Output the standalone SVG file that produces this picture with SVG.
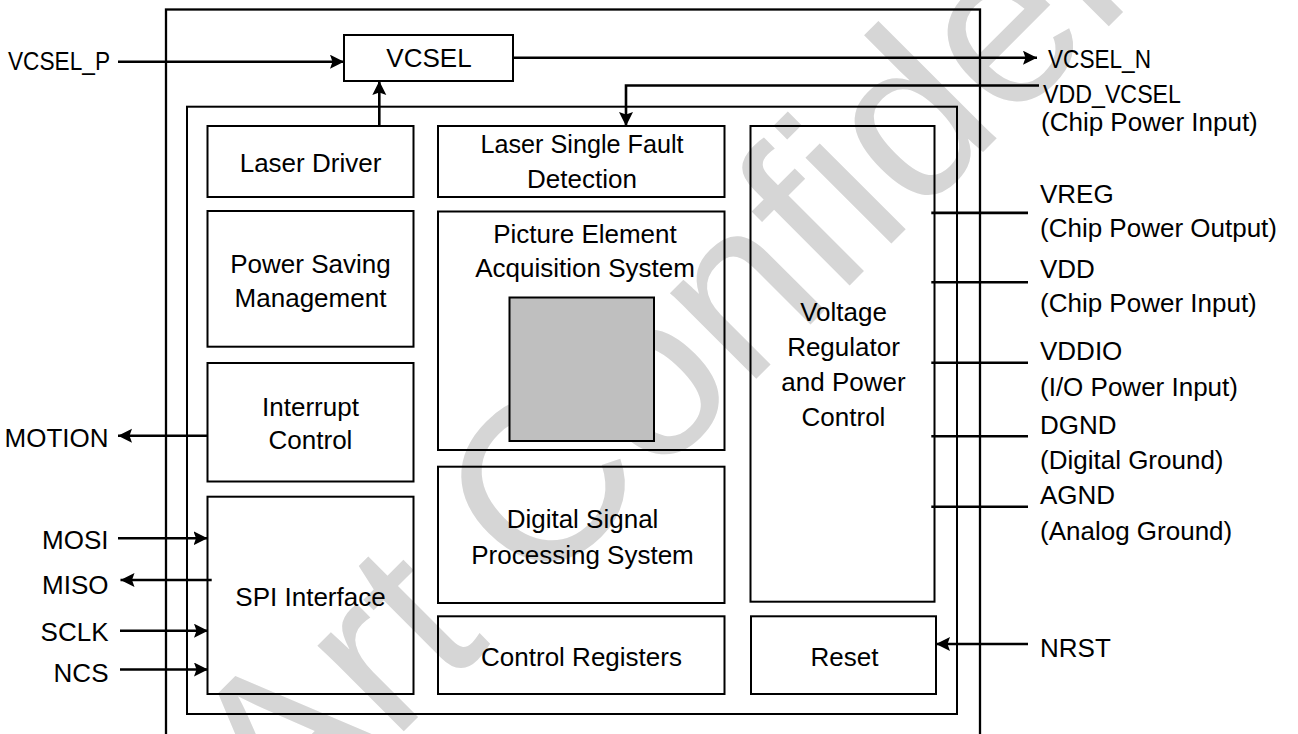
<svg xmlns="http://www.w3.org/2000/svg" width="1298" height="734" viewBox="0 0 1298 734">
<style>
.box{fill:none;stroke:#000;stroke-width:2}
.frame{fill:none;stroke:#000;stroke-width:2.3}
.wire{fill:none;stroke:#000;stroke-width:2.6}
.arr{marker-end:url(#ah)}
text{font-family:"Liberation Sans",Arial,sans-serif;font-size:26px;fill:#000}
.c{text-anchor:middle}
.e{text-anchor:end}
.wm{font-size:230px;fill:#d6d6d6}
</style>
<defs>
<marker id="ah" markerUnits="userSpaceOnUse" markerWidth="16" markerHeight="16" refX="14" refY="7" orient="auto">
<path d="M0,0 L14,7 L0,14 L2.5,7 z" fill="#000"/>
</marker>
</defs>
<rect width="1298" height="734" fill="#fff"/>
<text class="wm" transform="translate(284,851) rotate(-45)">Art Confidential</text>

<g id="chip">
<rect class="frame" x="166" y="9.5" width="814" height="740"/>
</g>
<g id="core">
<rect class="box" x="187" y="106.7" width="770" height="607.3"/>
</g>

<g id="vcsel">
<rect class="box" x="344" y="35" width="169" height="46"/>
<text class="c" x="429" y="67">VCSEL</text>
</g>
<g id="laser-driver">
<rect class="box" x="207.5" y="126" width="206" height="71"/>
<text class="c" x="310.5" y="172">Laser Driver</text>
</g>
<g id="power-saving">
<rect class="box" x="207.5" y="211" width="206" height="135.7"/>
<text class="c" x="310.5" y="272.5">Power Saving</text>
<text class="c" x="310.5" y="306.5">Management</text>
</g>
<g id="interrupt">
<rect class="box" x="207.5" y="363" width="206" height="118.5"/>
<text class="c" x="310.5" y="415.7">Interrupt</text>
<text class="c" x="310.5" y="449">Control</text>
</g>
<g id="spi">
<rect class="box" x="207.5" y="496.7" width="206" height="197.3"/>
<text class="c" x="310.5" y="605.7">SPI Interface</text>
</g>
<g id="fault">
<rect class="box" x="438" y="126" width="286.5" height="71"/>
<text class="c" x="582" y="153" textLength="203" lengthAdjust="spacingAndGlyphs">Laser Single Fault</text>
<text class="c" x="582" y="188.3">Detection</text>
</g>
<g id="pixel">
<rect class="box" x="438" y="211.5" width="286.5" height="238.5"/>
<text class="c" x="585" y="243.3">Picture Element</text>
<text class="c" x="585" y="277.3">Acquisition System</text>
<rect x="509.5" y="297.5" width="144.5" height="143.5" fill="#bfbfbf" stroke="#000" stroke-width="2"/>
</g>
<g id="dsp">
<rect class="box" x="438" y="466.7" width="286.5" height="136.3"/>
<text class="c" x="582.5" y="527.5">Digital Signal</text>
<text class="c" x="582.5" y="563.5">Processing System</text>
</g>
<g id="registers">
<rect class="box" x="438" y="616.3" width="286.5" height="77.7"/>
<text class="c" x="581.5" y="665.7">Control Registers</text>
</g>
<g id="regulator">
<rect class="box" x="750.5" y="126" width="184" height="475.7"/>
<text class="c" x="843.5" y="320.7">Voltage</text>
<text class="c" x="843.5" y="356">Regulator</text>
<text class="c" x="843.5" y="391">and Power</text>
<text class="c" x="843.5" y="425.5">Control</text>
</g>
<g id="reset">
<rect class="box" x="751" y="616.3" width="185" height="77.7"/>
<text class="c" x="844.5" y="665.7">Reset</text>
</g>

<g id="connectors">
<line class="wire arr" x1="118" y1="61.7" x2="344" y2="61.7"/>
<line class="wire arr" x1="513" y1="57.7" x2="1037" y2="57.7"/>
<line class="wire arr" x1="379.3" y1="126" x2="379.3" y2="81"/>
<polyline class="wire arr" points="1039,85.5 626,85.5 626,126"/>
<line class="wire arr" x1="208" y1="435.7" x2="118" y2="435.7"/>
<line class="wire arr" x1="118" y1="538.3" x2="207.5" y2="538.3"/>
<line class="wire arr" x1="211.7" y1="580" x2="120.5" y2="580"/>
<line class="wire arr" x1="120" y1="630.7" x2="208" y2="630.7"/>
<line class="wire arr" x1="120" y1="669.5" x2="208" y2="669.5"/>
<line class="wire arr" x1="1028" y1="644" x2="936" y2="644"/>
<line class="wire" x1="931.3" y1="212.9" x2="1028" y2="212.9"/>
<line class="wire" x1="931.3" y1="282.3" x2="1028" y2="282.3"/>
<line class="wire" x1="931.3" y1="362.7" x2="1028" y2="362.7"/>
<line class="wire" x1="931.3" y1="436.3" x2="1028" y2="436.3"/>
<line class="wire" x1="931.3" y1="506.7" x2="1028" y2="506.7"/>
</g>

<g id="pins">
<text x="8" y="70" textLength="102" lengthAdjust="spacingAndGlyphs">VCSEL_P</text>
<text x="1048" y="68.3" textLength="103" lengthAdjust="spacingAndGlyphs">VCSEL_N</text>
<text x="1043" y="102.7" textLength="138" lengthAdjust="spacingAndGlyphs">VDD_VCSEL</text>
<text x="1041" y="131">(Chip Power Input)</text>
<text x="1040" y="202.7">VREG</text>
<text x="1040" y="237">(Chip Power Output)</text>
<text x="1040" y="278.3">VDD</text>
<text x="1040" y="312">(Chip Power Input)</text>
<text x="1040" y="360">VDDIO</text>
<text x="1040" y="395.7">(I/O Power Input)</text>
<text x="1040" y="434">DGND</text>
<text x="1040" y="468.5">(Digital Ground)</text>
<text x="1040" y="504">AGND</text>
<text x="1040" y="539.5">(Analog Ground)</text>
<text x="1040" y="657.3">NRST</text>
<text class="e" x="108.5" y="447">MOTION</text>
<text class="e" x="108.5" y="549">MOSI</text>
<text class="e" x="108.5" y="594">MISO</text>
<text class="e" x="108.5" y="640.7">SCLK</text>
<text class="e" x="108.5" y="682.3">NCS</text>
</g>
</svg>
